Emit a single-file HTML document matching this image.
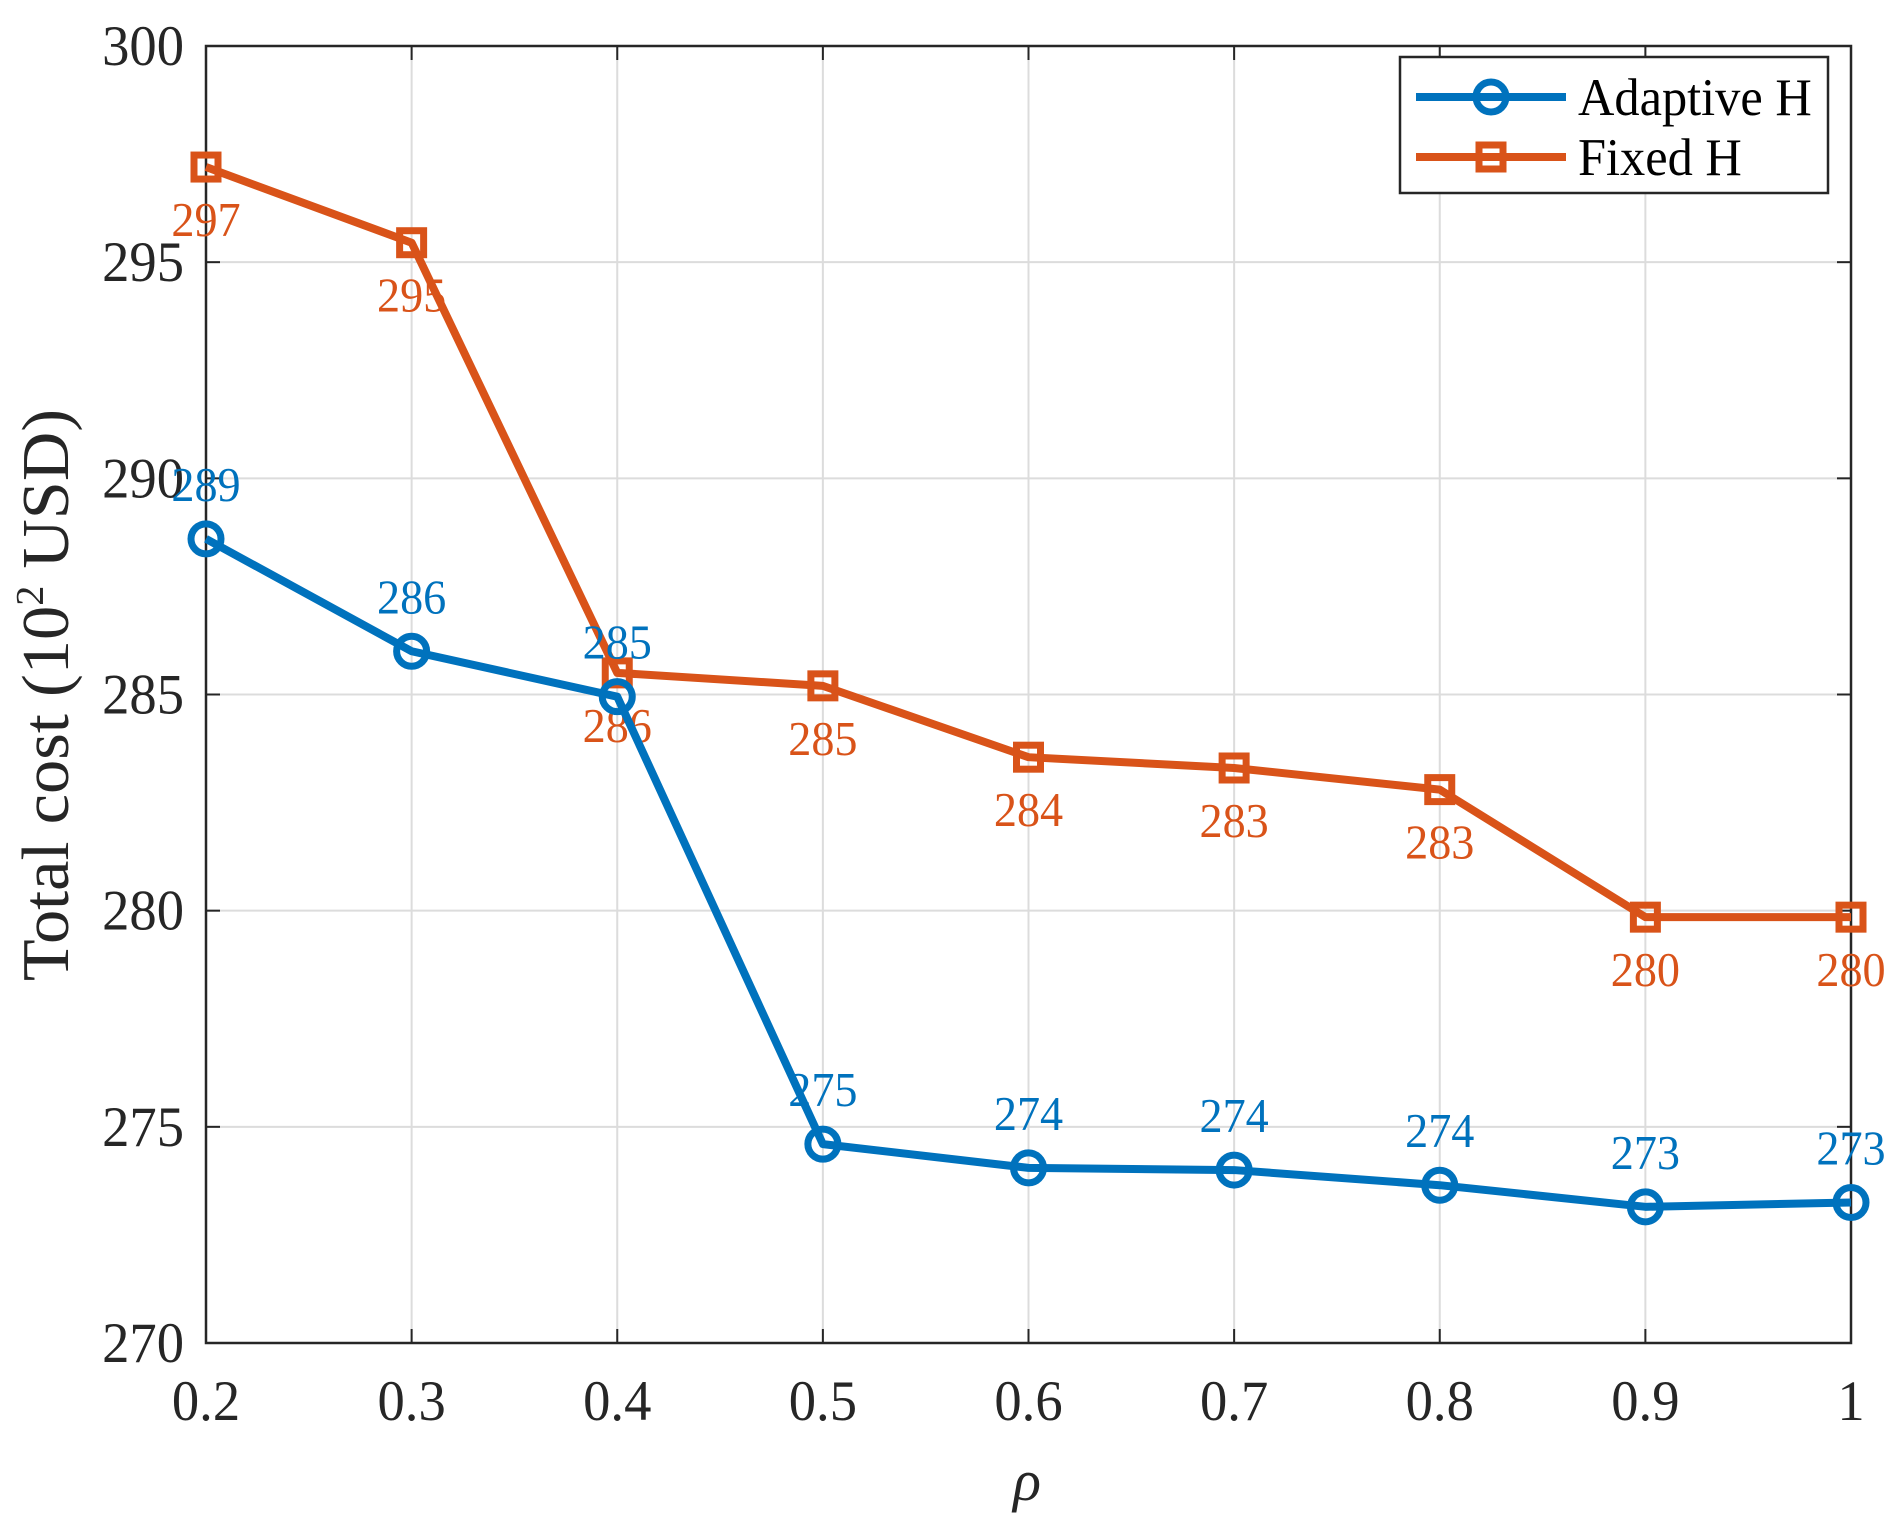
<!DOCTYPE html>
<html><head><meta charset="utf-8"><style>
html,body{margin:0;padding:0;background:#fff;}
text{font-family:"Liberation Serif",serif;}
</style></head><body>
<svg id="chart" width="1901" height="1528" xmlns="http://www.w3.org/2000/svg"></svg>
<script>
const categories = [0.2,0.3,0.4,0.5,0.6,0.7,0.8,0.9,1];
const xTickLabels = ["0.2","0.3","0.4","0.5","0.6","0.7","0.8","0.9","1"];
const adaptiveValues = [288.6,286.0,284.95,274.6,274.05,274.0,273.65,273.15,273.25];
const adaptiveLabels = ["289","286","285","275","274","274","274","273","273"];
const fixedValues = [297.2,295.45,285.5,285.2,283.55,283.3,282.8,279.85,279.85];
const fixedLabels = ["297","295","286","285","284","283","283","280","280"];
const yTicks = [270,275,280,285,290,295,300];

const L=206,R=1851,T=46,B=1343;
const xs=v=>L+(v-0.2)/(1-0.2)*(R-L);
const ys=v=>B-(v-270)/(300-270)*(B-T);
const svg=document.getElementById('chart');
const NS='http://www.w3.org/2000/svg';
function mk(tag,attrs,parent){const e=document.createElementNS(NS,tag);for(const k in attrs)e.setAttribute(k,attrs[k]);(parent||svg).appendChild(e);return e;}
function st(x,y,size,anchor,fill,parent,sx,sy){
  return mk('text',{x:0,y:0,'font-size':size,'text-anchor':anchor,fill:fill,transform:`translate(${x},${y}) scale(${sx||1.05},${sy||1.1})`},parent);
}

const grid=mk('g',{});


categories.forEach(c=>mk('line',{x1:xs(c),x2:xs(c),y1:T,y2:B,stroke:'#dcdcdc','stroke-width':2},grid));
yTicks.forEach(t=>mk('line',{x1:L,x2:R,y1:ys(t),y2:ys(t),stroke:'#dcdcdc','stroke-width':2},grid));

const xa=mk('g',{});


categories.forEach((c,i)=>{
  mk('line',{x1:xs(c),x2:xs(c),y1:B,y2:B-14,stroke:'#262626','stroke-width':2},xa);
  mk('line',{x1:xs(c),x2:xs(c),y1:T,y2:T+14,stroke:'#262626','stroke-width':2},xa);
  const t=st(xs(c),1420,52,'middle','#262626',xa);
  t.textContent=xTickLabels[i];
  
  
});
const ya=mk('g',{});


yTicks.forEach(v=>{
  mk('line',{x1:L,x2:L+14,y1:ys(v),y2:ys(v),stroke:'#262626','stroke-width':2},ya);
  mk('line',{x1:R,x2:R-14,y1:ys(v),y2:ys(v),stroke:'#262626','stroke-width':2},ya);
  const t=st(184,ys(v)+19,52,'end','#262626',ya);
  t.textContent=String(v);
  
  
});
mk('rect',{x:L,y:T,width:R-L,height:B-T,fill:'none',stroke:'#262626','stroke-width':2.5});

function series(vals,labs,color,marker,labelDy,name){
  const g=mk('g',{});
  
  
  mk('polyline',{points:vals.map((v,i)=>xs(categories[i])+','+ys(v)).join(' '),fill:'none',stroke:color,'stroke-width':8,'stroke-linejoin':'round'},g);
  vals.forEach((v,i)=>{
    const x=xs(categories[i]),y=ys(v);
    let m;
    if(marker==='circle') m=mk('circle',{cx:x,cy:y,r:15,fill:'none',stroke:color,'stroke-width':7},g);
    else m=mk('rect',{x:x-12,y:y-12,width:24,height:24,fill:'none',stroke:color,'stroke-width':7},g);
    
    
    const t=st(x,y+labelDy+16,44,'middle',color,g);
    t.textContent=labs[i];
    
    
  });
}
series(fixedValues,fixedLabels,'#d95319','square',53,'fixed-h-series');
series(adaptiveValues,adaptiveLabels,'#0072bd','circle',-54,'adaptive-h-series');

const lg=mk('g',{});


mk('rect',{x:1400,y:57,width:428,height:136,fill:'#fff',stroke:'#262626','stroke-width':2.5},lg);
mk('line',{x1:1416,x2:1566,y1:97,y2:97,stroke:'#0072bd','stroke-width':8},lg);
mk('circle',{cx:1491,cy:97,r:15,fill:'none',stroke:'#0072bd','stroke-width':7},lg);
mk('line',{x1:1416,x2:1566,y1:157,y2:157,stroke:'#d95319','stroke-width':8},lg);
mk('rect',{x:1479,y:145,width:24,height:24,fill:'none',stroke:'#d95319','stroke-width':7},lg);
let t=st(1578,115,48,'start','#000',lg);t.textContent='Adaptive H';


t=st(1578,175,48,'start','#000',lg);t.textContent='Fixed H';



t=mk('text',{x:0,y:0,'font-size':58,'text-anchor':'middle',fill:'#262626',transform:'translate(68,695) rotate(-90) scale(1.18,1.15)'});
t.innerHTML='Total cost (10<tspan dy="-22" font-size="34">2</tspan><tspan dy="22"> USD)</tspan>';


t=mk('text',{x:1027,y:1500,'font-size':58,'font-style':'italic','text-anchor':'middle',fill:'#262626'});
t.textContent='ρ';


</script>
</body></html>
